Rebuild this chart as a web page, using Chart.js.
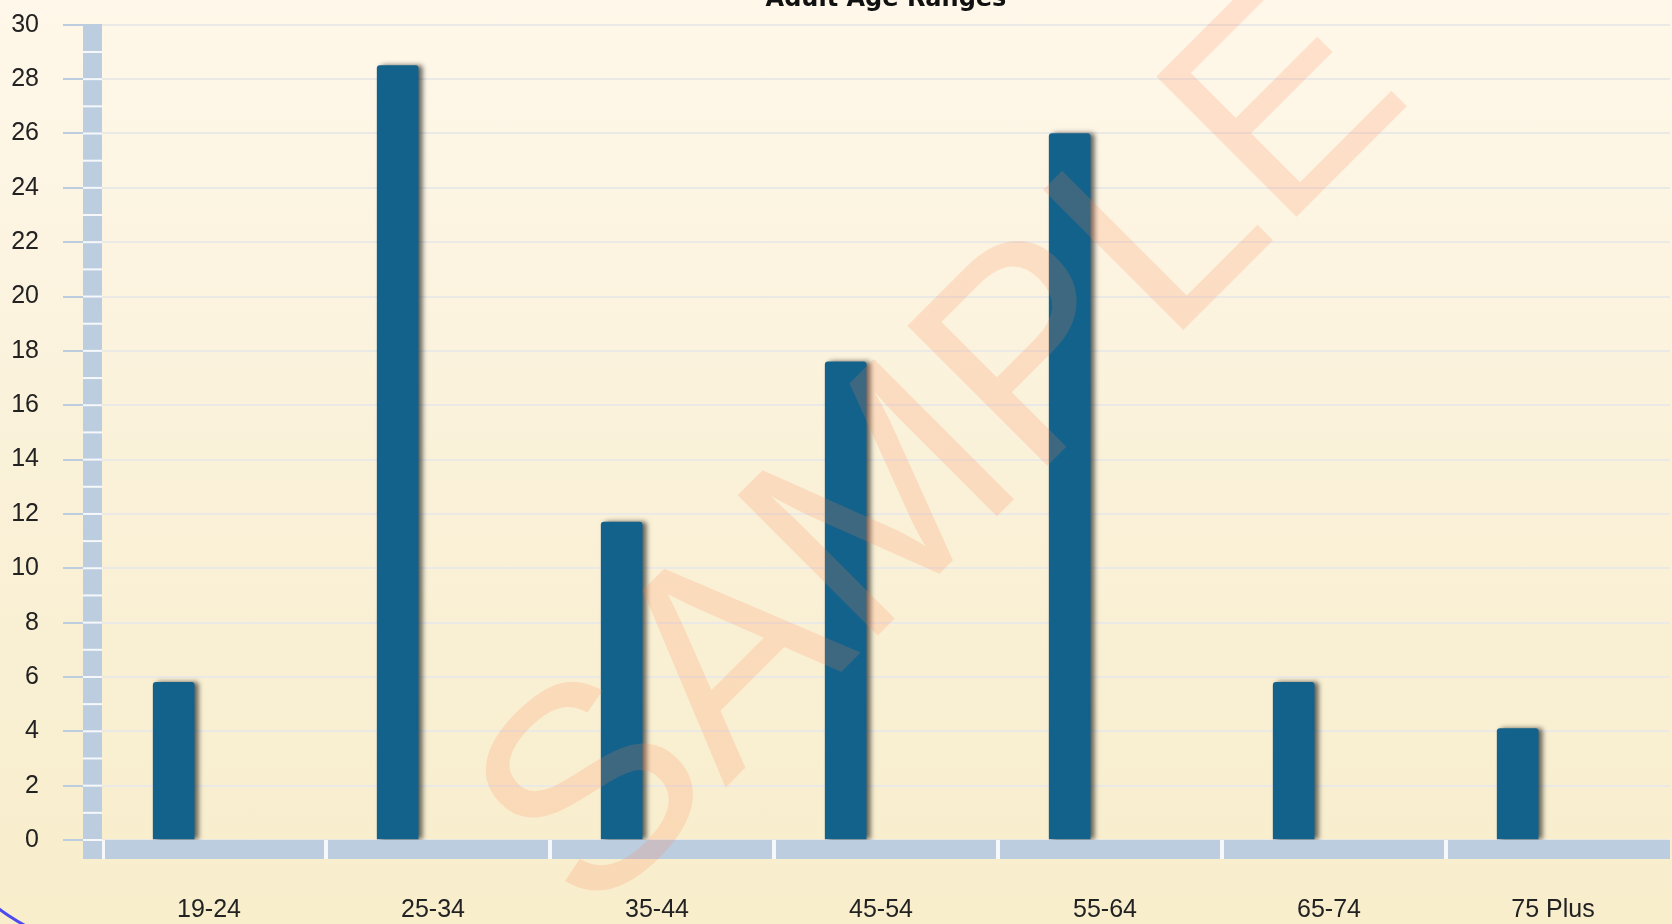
<!DOCTYPE html>
<html>
<head>
<meta charset="utf-8">
<title>Adult Age Ranges</title>
<script src="https://cdn.jsdelivr.net/npm/chart.js@4.4.1/dist/chart.umd.min.js"></script>
<style>
  html, body { margin: 0; padding: 0; overflow: hidden; }
  body {
    width: 1672px; height: 924px; position: relative;
    background: linear-gradient(#fff8ea 0%, #faf1d9 50%, #f8eecc 100%);
  }
  #wrap { position: absolute; left: 0; top: -15px; width: 1672px; height: 939px; }
  #corner {
    position: absolute; left: -88px; top: 500px; width: 600px; height: 450px;
    border-left: 3px solid #4b4bf0; border-bottom: 3px solid #4b4bf0;
    border-bottom-left-radius: 215px; pointer-events: none;
  }
</style>
</head>
<body>
<div id="wrap"><canvas id="chart"></canvas></div>
<div id="corner"></div>
<script>
const categories = ['19-24', '25-34', '35-44', '45-54', '55-64', '65-74', '75 Plus'];
const values = [5.8, 28.5, 11.7, 17.6, 26.0, 5.8, 4.1];
const chartTitle = 'Adult Age Ranges';
const watermarkText = 'SAMPLE';

const labelFont = { family: 'Liberation Sans', size: 25 };

// 3D-ish wall on the left and floor under the bars
const wallAndFloor = {
  id: 'wallAndFloor',
  beforeDatasetsDraw(chart) {
    const { ctx, chartArea: { left, right, bottom }, scales: { y } } = chart;
    const depth = 19;
    const top = y.getPixelForValue(y.max);
    ctx.save();
    ctx.fillStyle = '#bccddf';
    ctx.fillRect(left - depth, top, depth, bottom - top + depth);
    ctx.fillRect(left, bottom, right - left, depth);
    ctx.fillStyle = '#f6f8fb';
    for (let v = y.min; v < y.max; v++) {
      const py = y.getPixelForValue(v);
      ctx.fillRect(left - depth, py - 1, depth, 2);
    }
    const step = (right - left) / categories.length;
    ctx.fillRect(left, bottom, 3, depth);
    for (let i = 1; i < categories.length; i++) {
      ctx.fillRect(left + i * step - 2, bottom, 4, depth);
    }
    ctx.restore();
  },
};

// bars sit toward the front-left of each slot, with a drop shadow
const barShift = {
  id: 'barShift',
  beforeDatasetDraw(chart) {
    const { ctx, chartArea } = chart;
    const step = chartArea.width / categories.length;
    ctx.save();
    ctx.translate(-step * 0.18, 0);
    ctx.shadowColor = 'rgba(20, 20, 20, 0.65)';
    ctx.shadowBlur = 5;
    ctx.shadowOffsetX = 4;
  },
  afterDatasetDraw(chart) {
    chart.ctx.restore();
  },
};

const watermark = {
  id: 'watermark',
  afterDatasetsDraw(chart) {
    const { ctx, width, height } = chart;
    ctx.save();
    ctx.translate(width * 0.566, height * 0.5);
    ctx.rotate(-Math.PI / 4);
    ctx.font = '288px "Liberation Sans"';
    ctx.fillStyle = 'rgba(255, 130, 80, 0.19)';
    ctx.textAlign = 'center';
    ctx.textBaseline = 'middle';
    ctx.fillText(watermarkText, 0, 0);
    ctx.restore();
  },
};

new Chart(document.getElementById('chart'), {
  type: 'bar',
  plugins: [wallAndFloor, barShift, watermark],
  data: {
    labels: categories,
    datasets: [
      {
        data: values,
        backgroundColor: '#12628c',
        barThickness: 41,
        borderRadius: { topLeft: 3, topRight: 3, bottomLeft: 0, bottomRight: 0 },
        borderSkipped: 'bottom',
      },
    ],
  },
  options: {
    responsive: true,
    maintainAspectRatio: false,
    animation: false,
    layout: { padding: { left: 0, right: 2, top: 0, bottom: 0 } },
    plugins: {
      legend: { display: false },
      tooltip: { enabled: false },
      title: {
        display: true,
        fullSize: false,
        text: chartTitle,
        color: '#111',
        font: { family: 'DejaVu Sans', size: 24, weight: 'bold' },
        padding: { top: 0, bottom: 11 },
      },
    },
    scales: {
      x: {
        grid: { display: false },
        border: { display: false },
        ticks: { color: '#222', font: labelFont, padding: 47, labelOffset: -5, maxRotation: 0 },
        afterFit(scale) {
          scale.height = 84;
        },
      },
      y: {
        min: 0,
        max: 30,
        ticks: { stepSize: 2, color: '#222', font: labelFont, padding: 24 },
        grid: { color: '#ebe9e6', lineWidth: 2, tickLength: 39, tickColor: '#bccddf' },
        border: { display: false },
        afterFit(scale) {
          scale.width = 102;
        },
      },
    },
  },
});
</script>
</body>
</html>
